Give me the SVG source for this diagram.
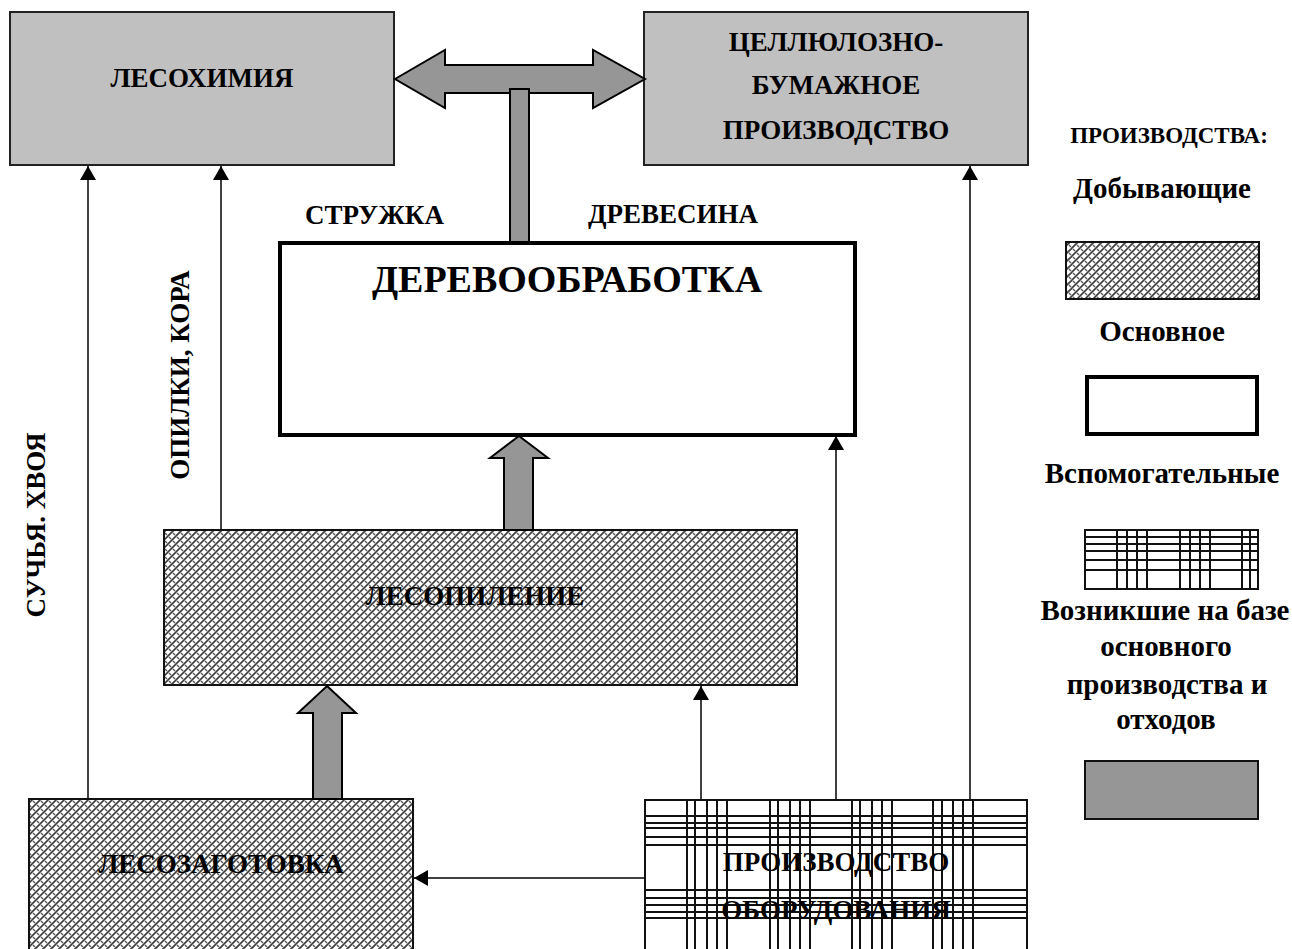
<svg xmlns="http://www.w3.org/2000/svg" width="1292" height="949" viewBox="0 0 1292 949">
<style>
.t{font-family:"Liberation Serif","Times New Roman",serif;font-weight:bold;fill:#000}
.b{font-size:27px}
.s{font-size:23px}
.v{font-size:27px}
.l{font-size:29px}
.m{text-anchor:middle}
.gray{fill:#c0c0c0;stroke:#222;stroke-width:2}
.blk{fill:#969696;stroke:#000;stroke-width:2}
.ln{fill:none;stroke:#000;stroke-width:1.5}
.gl{stroke:#111;stroke-width:2;fill:none}
</style>
<defs>
<pattern id="weave" width="8" height="8" patternUnits="userSpaceOnUse">
<rect width="8" height="8" fill="#fff"/>
<path d="M0,8 L8,0 M-2,2 L2,-2 M6,10 L10,6" stroke="#3c3c3c" stroke-width="1.6"/>
<path d="M1,1 L3,3 M5,5 L7,7" stroke="#555" stroke-width="1.4"/>
</pattern>
<marker id="ah" viewBox="0 0 14 16" refX="14" refY="8" markerWidth="14" markerHeight="16" markerUnits="userSpaceOnUse" orient="auto">
<path d="M0,0 L14,8 L0,16 Z" fill="#000"/>
</marker>
</defs>
<rect width="1292" height="949" fill="#fff"/>

<g id="lesohimiya">
<rect class="gray" x="10" y="12" width="384" height="153"/>
<text class="t b m" x="202" y="87">ЛЕСОХИМИЯ</text>
</g>

<g id="cbp">
<rect class="gray" x="644" y="12" width="384" height="153"/>
<text class="t b m" x="836" y="51">ЦЕЛЛЮЛОЗНО-</text>
<text class="t b m" x="836" y="94">БУМАЖНОЕ</text>
<text class="t b m" x="836" y="139">ПРОИЗВОДСТВО</text>
</g>

<g id="derevoobrabotka">
<rect x="280" y="243" width="575" height="192" fill="#fff" stroke="#000" stroke-width="4"/>
<text class="t m" style="font-size:38px" x="567" y="292">ДЕРЕВООБРАБОТКА</text>
</g>

<g id="lesopilenie">
<rect x="164" y="530" width="633" height="155" fill="url(#weave)" stroke="#111" stroke-width="2"/>
<text class="t b m" x="475" y="605">ЛЕСОПИЛЕНИЕ</text>
</g>

<g id="lesozagotovka">
<rect x="29" y="799" width="384" height="160" fill="url(#weave)" stroke="#111" stroke-width="2"/>
<text class="t b m" x="221" y="873">ЛЕСОЗАГОТОВКА</text>
</g>

<g id="proizvodstvo-oborudovaniya">
<rect x="645" y="800" width="382" height="160" fill="#fff" stroke="#111" stroke-width="2"/>
<path class="gl" d="M687,800V949M695,800V949M707,800V949M717,800V949M727,800V949
M770,800V949M778,800V949M790,800V949M800,800V949M810,800V949
M852,800V949M860,800V949M872,800V949M882,800V949M892,800V949
M933,800V949M942,800V949M953,800V949M963,800V949M973,800V949
M645,816H1027M645,823H1027M645,828H1027M645,837H1027M645,845H1027
M645,890H1027M645,898H1027M645,905H1027M645,912H1027M645,918H1027"/>
<text class="t b m" x="836" y="871">ПРОИЗВОДСТВО</text>
<text class="t b m" x="836" y="919">ОБОРУДОВАНИЯ</text>
</g>

<g id="connectors">
<path class="blk" d="M395,79 L445,50 L445,65 L593,65 L593,50 L645,79 L593,108 L593,93 L445,93 L445,108 Z"/>
<rect class="blk" x="510" y="89" width="19" height="153"/>
<path class="blk" d="M519,436 L548,458 L533,458 L533,530 L504,530 L504,458 L490,458 Z"/>
<path class="blk" d="M327,686 L356,713 L342,713 L342,799 L313,799 L313,713 L298,713 Z"/>
<path class="ln" d="M88,799 V166" marker-end="url(#ah)"/>
<path class="ln" d="M221,530 V166" marker-end="url(#ah)"/>
<path class="ln" d="M970,799 V166" marker-end="url(#ah)"/>
<path class="ln" d="M836,799 V436" marker-end="url(#ah)"/>
<path class="ln" d="M701,799 V686" marker-end="url(#ah)"/>
<path class="ln" d="M644,878 H414" marker-end="url(#ah)"/>
<text class="t b" x="305" y="224">СТРУЖКА</text>
<text class="t b" x="588" y="223">ДРЕВЕСИНА</text>
<text class="t v m" transform="translate(45,525) rotate(-90)">СУЧЬЯ. ХВОЯ</text>
<text class="t v m" transform="translate(189,375) rotate(-90)">ОПИЛКИ, КОРА</text>
</g>

<g id="legend">
<text class="t s m" x="1169" y="143">ПРОИЗВОДСТВА:</text>
<text class="t l m" x="1162" y="198">Добывающие</text>
<rect x="1066" y="242" width="193" height="57" fill="url(#weave)" stroke="#111" stroke-width="2"/>
<text class="t l m" x="1162" y="341">Основное</text>
<rect x="1087" y="377" width="170" height="57" fill="#fff" stroke="#000" stroke-width="4"/>
<text class="t l m" x="1162" y="483">Вспомогательные</text>
<rect x="1085" y="530" width="173" height="59" fill="#fff" stroke="#111" stroke-width="2"/>
<path class="gl" d="M1117,530V589M1127,530V589M1137,530V589M1147,530V589M1180,530V589M1190,530V589M1200,530V589M1210,530V589M1242,530V589M1250,530V589
M1085,537H1258M1085,544H1258M1085,551H1258M1085,560H1258M1085,570H1258"/>
<text class="t l m" x="1165" y="620">Возникшие на базе</text>
<text class="t l m" x="1166" y="656">основного</text>
<text class="t l m" x="1167" y="694">производства и</text>
<text class="t l m" x="1166" y="729">отходов</text>
<rect x="1085" y="761" width="173" height="58" fill="#969696" stroke="#111" stroke-width="2"/>
</g>
</svg>
